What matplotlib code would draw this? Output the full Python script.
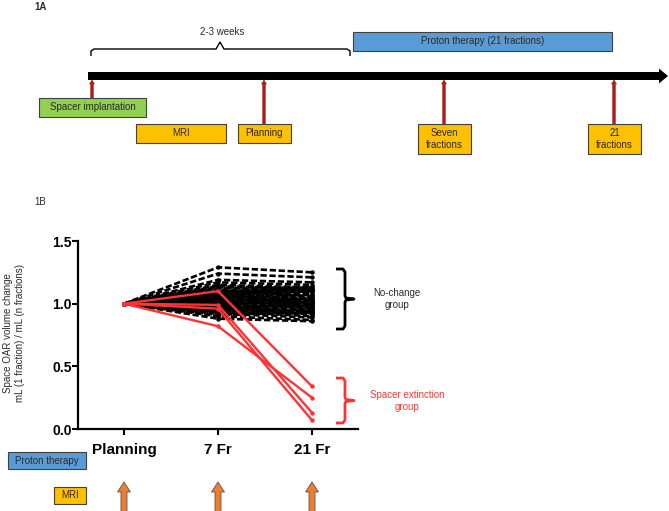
import matplotlib
matplotlib.use("Agg")
import matplotlib.pyplot as plt
from matplotlib.patches import Rectangle, FancyArrow
from matplotlib.path import Path
from matplotlib.patches import PathPatch

plt.rcParams['font.family'] = ['Liberation Sans', 'DejaVu Sans']

# ---------------- data ----------------
timepoints = ["Planning", "7 Fr", "21 Fr"]
yticks = [0.0, 0.5, 1.0, 1.5]
ytick_labels = ["0.0", "0.5", "1.0", "1.5"]

planning_value = 1.0
seven_fr_black = [1.29, 1.24, 1.19, 1.17, 1.15, 1.14, 1.13, 1.12, 1.11, 1.10,
                  1.10, 1.09, 1.08, 1.08, 1.07, 1.06, 1.06, 1.05, 1.05, 1.04,
                  1.03, 1.03, 1.02, 1.02, 1.01, 1.00, 1.00, 0.99, 0.99, 0.98,
                  0.97, 0.97, 0.96, 0.96, 0.95, 0.94, 0.94, 0.93, 0.92, 0.91,
                  0.90, 0.88]
twentyone_fr_black = [1.25, 1.21, 1.17, 1.15, 1.13, 1.12, 1.10, 1.13, 1.08, 1.11,
                      1.06, 1.12, 1.09, 1.04, 1.10, 1.03, 1.07, 1.01, 1.05, 1.00,
                      1.02, 0.98, 1.04, 0.96, 0.99, 1.01, 0.95, 0.97, 1.03, 0.94,
                      0.98, 0.93, 1.00, 0.92, 0.96, 0.94, 0.90, 0.92, 0.89, 0.93,
                      0.87, 0.86]
seven_fr_red = [1.10, 0.82, 0.99, 0.96]
twentyone_fr_red = [0.34, 0.25, 0.13, 0.07]

# timeline (panel 1A) labels
timeline_events = ["Spacer implantation", "MRI", "Planning", "Seven\nfractions", "21\nfractions"]

# ---------------- figure ----------------
W, H = 669, 511
fig = plt.figure(figsize=(W / 100, H / 100), dpi=100)
bg = fig.add_axes([0, 0, 1, 1])
bg.set_xlim(0, W)
bg.set_ylim(H, 0)
bg.axis('off')

GREEN = '#92D050'
YELLOW = '#FFC000'
BLUE = '#5B9BD5'
EDGE = '#404040'
TXT = '#2b2b2b'
RED = '#FF3333'

def box(x0, y0, x1, y1, fc, text, fs=7, color=TXT):
    bg.add_patch(Rectangle((x0, y0), x1 - x0, y1 - y0, fc=fc, ec=EDGE, lw=0.8))
    bg.text((x0 + x1) / 2, (y0 + y1) / 2, text, ha='center', va='center',
            fontsize=fs, color=color, linespacing=1.25)

# Panel labels
bg.text(34, 7, "1A", fontsize=7, fontweight='bold', color=TXT, ha='left', va='center')
bg.text(34, 202, "1B", fontsize=7, color=TXT, ha='left', va='center')

# Main black arrow
bg.add_patch(FancyArrow(88, 76, 580, 0, width=8, head_width=15, head_length=9,
                        length_includes_head=True, fc='black', ec='black', lw=0))

# Bracket "2-3 weeks"
verts = [(91, 56), (91, 51), (94, 49), (216, 49), (220, 42), (224, 49),
         (347, 49), (350, 51), (350, 56)]
bg.add_patch(PathPatch(Path(verts), fill=False, ec='black', lw=1.0))
bg.text(222, 32, "2-3 weeks", ha='center', va='center', fontsize=7, color=TXT)

# Proton therapy bar
box(353, 32, 612, 51, BLUE, "Proton therapy (21 fractions)")

# Event boxes
box(39, 98, 146, 117, GREEN, timeline_events[0])
box(136, 124, 226, 143, YELLOW, timeline_events[1])
box(238, 124, 291, 143, YELLOW, timeline_events[2])
box(418, 124, 471, 154, YELLOW, timeline_events[3])
box(588, 124, 641, 154, YELLOW, timeline_events[4])

# Red up arrows
for x, ybot in [(92, 98), (264, 124), (444, 124), (614, 124)]:
    bg.add_patch(FancyArrow(x, ybot, 0, -(ybot - 80), width=2.6, head_width=5,
                            head_length=4, length_includes_head=True,
                            fc='#EE0000', ec='#555555', lw=0.5))

# ---------------- panel 1B chart ----------------
ax = fig.add_axes([78 / W, (H - 429) / H, (358 - 78) / W, (429 - 241) / H])
ax.set_facecolor('none')
xs = list(range(len(timepoints)))

for k, (a, b) in enumerate(zip(seven_fr_black, twentyone_fr_black)):
    ax.plot(xs, [planning_value, a, b], color='black', lw=1.9,
            linestyle=((k % 4) * 0.9, (2.4, 1.0)), marker='o', markersize=2.2,
            clip_on=False, zorder=2)
for a, b in zip(seven_fr_red, twentyone_fr_red):
    ax.plot(xs, [planning_value, a, b], color=RED, lw=1.7, marker='o',
            markersize=2.2, clip_on=False, zorder=3)

ax.set_xlim(-0.489, 2.489)
ax.set_ylim(0, 1.5)
ax.set_xticks(xs)
ax.set_xticklabels(timepoints, fontsize=11, fontweight='bold')
ax.set_yticks(yticks)
ax.set_yticklabels(ytick_labels, fontsize=10, fontweight='bold')
for s in ['top', 'right']:
    ax.spines[s].set_visible(False)
for s in ['left', 'bottom']:
    ax.spines[s].set_linewidth(1.6)
ax.tick_params(axis='x', direction='out', length=4, width=1.5, pad=6)
ax.tick_params(axis='y', direction='out', length=4, width=1.5, pad=0.5)

bg.text(14, 333, "Space OAR volume change\nmL (1 fraction) / mL (n fractions)",
        rotation=90, ha='center', va='center', fontsize=7, color=TXT,
        multialignment='center', linespacing=1.2)

# Curly brackets on the right
def curly(x0, top, bot, color):
    mid = (top + bot) / 2
    xv = x0 + 9
    verts = [(x0, top), (xv - 2, top), (xv, top + 3), (xv, mid - 3),
             (xv + 1, mid - 1), (x0 + 18, mid), (xv + 1, mid + 1), (xv, mid + 3),
             (xv, bot - 3), (xv - 2, bot), (x0, bot)]
    bg.add_patch(PathPatch(Path(verts), fill=False, ec=color, lw=2.0,
                           joinstyle='round', capstyle='butt'))

curly(336, 269, 329, 'black')
curly(336, 378, 423, RED)
bg.text(397, 299, "No-change\ngroup", ha='center', va='center', fontsize=7,
        color=TXT, linespacing=1.3)
bg.text(407, 401, "Spacer extinction\ngroup", ha='center', va='center',
        fontsize=7, color=RED, linespacing=1.3)

# Bottom row: proton therapy and MRI boxes with orange arrows
box(8, 452, 86, 469, BLUE, "Proton therapy")
box(54, 487, 86, 504, YELLOW, "MRI")

fig.canvas.draw()
for i in xs:
    px = ax.transData.transform((i, 0))[0]
    bx = bg.transData.inverted().transform((px, 0))[0]
    bg.add_patch(FancyArrow(bx, 512, 0, -30, width=6, head_width=13,
                            head_length=10, length_includes_head=True,
                            fc='#ED7D31', ec='#555555', lw=0.6))

fig.savefig("out.png", dpi=100)
